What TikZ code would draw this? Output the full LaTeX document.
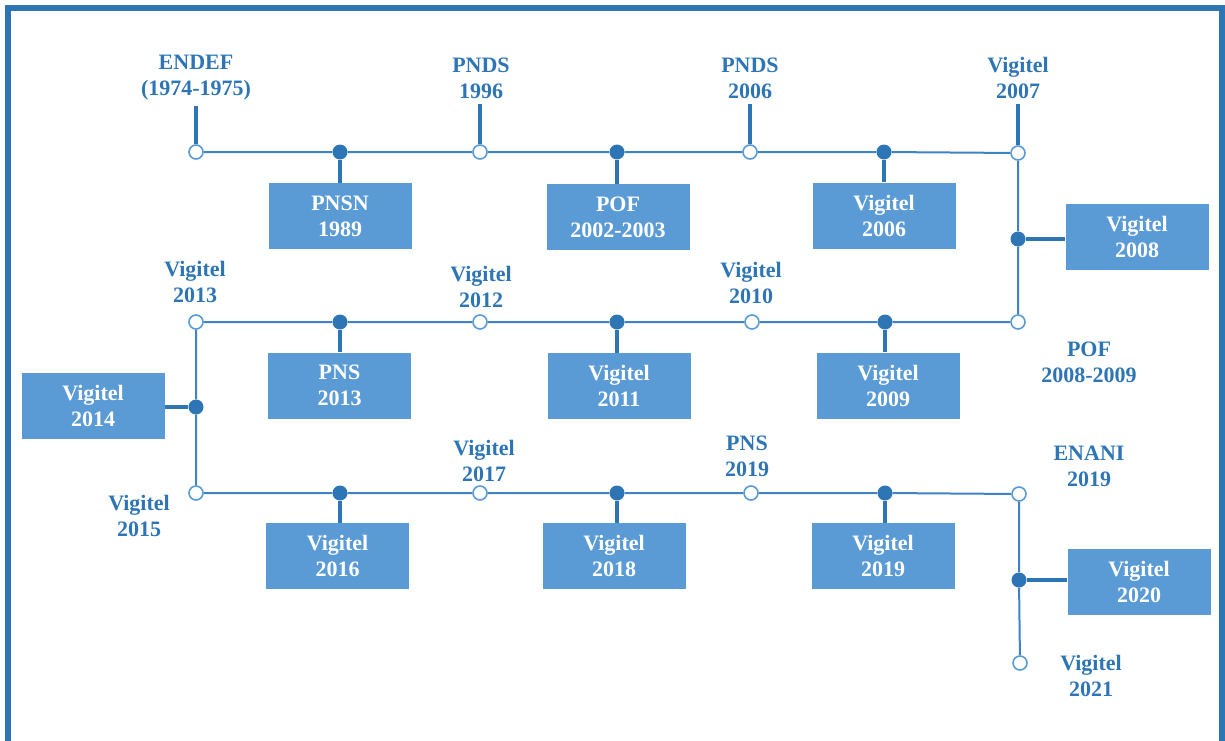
\documentclass[tikz,border=0pt]{standalone}
\usepackage{fontspec}
\setmainfont{Liberation Serif}[BoldFont={Liberation Serif Bold}]
\definecolor{framec}{HTML}{2E75B6}
\definecolor{boxfill}{HTML}{5B9BD5}
\definecolor{txtc}{HTML}{2E75B6}
\definecolor{linec}{HTML}{3F83C4}
\tikzset{
  opendot/.style={circle,draw=boxfill,fill=white,line width=1.6pt,minimum size=14pt,inner sep=0pt},
  fulldot/.style={circle,fill=framec,minimum size=15pt,inner sep=0pt},
  evbox/.style={fill=boxfill,text=white,minimum width=143pt,minimum height=66pt,align=center,inner sep=0pt,font=\bfseries\fontsize{22}{26}\selectfont},
  lab/.style={text=txtc,align=center,inner sep=0pt,font=\bfseries\fontsize{22}{26}\selectfont},
  tl/.style={draw=linec,line width=2pt},
  stemline/.style={draw=framec,line width=4.5pt},
}
\begin{document}
\begin{tikzpicture}[x=1pt,y=-1pt]
\useasboundingbox (0,0) rectangle (1225,740);
\draw[framec,line width=6pt] (8,760) -- (8,8) -- (1222,8) -- (1222,760);

% row 1
\node[opendot] (a1) at (196,152) {};
\node[fulldot] (a2) at (340,152) {};
\node[opendot] (a3) at (480,152) {};
\node[fulldot] (a4) at (617,152) {};
\node[opendot] (a5) at (750,152) {};
\node[fulldot] (a6) at (884,152) {};
\node[opendot] (a7) at (1018,153) {};
% right vertical 1
\node[fulldot] (r1) at (1018,239) {};
% row 2
\node[opendot] (b7) at (1018,322) {};
\node[fulldot] (b6) at (885,322) {};
\node[opendot] (b5) at (752,322) {};
\node[fulldot] (b4) at (617,322) {};
\node[opendot] (b3) at (480,322) {};
\node[fulldot] (b2) at (340,322) {};
\node[opendot] (b1) at (196,322) {};
% left vertical
\node[fulldot] (l1) at (196,407) {};
% row 3
\node[opendot] (d1) at (196,493) {};
\node[fulldot] (d2) at (340,493) {};
\node[opendot] (d3) at (480,493) {};
\node[fulldot] (d4) at (617,493) {};
\node[opendot] (d5) at (751,493) {};
\node[fulldot] (d6) at (885,493) {};
\node[opendot] (d7) at (1019,494) {};
% right vertical 2
\node[fulldot] (r2) at (1019,580) {};
\node[opendot] (e1) at (1020,663) {};

% lines
\draw[tl] (a1) -- (a2) -- (a3) -- (a4) -- (a5) -- (a6) -- (a7) -- (r1) -- (b7)
  -- (b6) -- (b5) -- (b4) -- (b3) -- (b2) -- (b1) -- (l1) -- (d1)
  -- (d2) -- (d3) -- (d4) -- (d5) -- (d6) -- (d7) -- (r2) -- (e1);

% labels
\node[lab] (ta1) at (196,78) {ENDEF\\(1974-1975)};
\node[lab] (ta3) at (481,78) {PNDS\\1996};
\node[lab] (ta5) at (750,78) {PNDS\\2006};
\node[lab] (ta7) at (1018,78) {Vigitel\\2007};
\node[lab] (tb1) at (195,282) {Vigitel\\2013};
\node[lab] (tb3) at (481,287) {Vigitel\\2012};
\node[lab] (tb5) at (751,283) {Vigitel\\2010};
\node[lab] (tb7) at (1089,362) {POF\\2008-2009};
\node[lab] (td1) at (139,516) {Vigitel\\2015};
\node[lab] (td3) at (484,461) {Vigitel\\2017};
\node[lab] (td5) at (747,456) {PNS\\2019};
\node[lab] (td7) at (1089,466) {ENANI\\2019};
\node[lab] (te1) at (1091,676) {Vigitel\\2021};

% stems to top labels
\foreach \c/\t in {a1/ta1,a3/ta3,a5/ta5,a7/ta7}
  \draw[stemline,shorten >=5pt] (\c) -- (\c |- \t.south);

% boxes
\node[evbox] (x2) at (340,216) {PNSN\\1989};
\node[evbox] (x4) at (618,217) {POF\\2002-2003};
\node[evbox] (x6) at (884,215.5) {Vigitel\\2006};
\node[evbox] (xr1) at (1137,236.5) {Vigitel\\2008};
\node[evbox] (y2) at (339.5,385.5) {PNS\\2013};
\node[evbox] (y4) at (619,386) {Vigitel\\2011};
\node[evbox] (y6) at (888,385.5) {Vigitel\\2009};
\node[evbox] (yl1) at (93,405.5) {Vigitel\\2014};
\node[evbox] (z2) at (337.5,556) {Vigitel\\2016};
\node[evbox] (z4) at (614,556) {Vigitel\\2018};
\node[evbox] (z6) at (883,556) {Vigitel\\2019};
\node[evbox] (zr2) at (1139,581.5) {Vigitel\\2020};

% box connectors
\foreach \c/\b in {a2/x2,a4/x4,a6/x6,b2/y2,b4/y4,b6/y6,d2/z2,d4/z4,d6/z6}
  \draw[stemline] (\c) -- (\c |- \b.north);
\draw[stemline] (r1) -- (r1 -| xr1.west);
\draw[stemline] (l1) -- (l1 -| yl1.east);
\draw[stemline] (r2) -- (r2 -| zr2.west);
\end{tikzpicture}
\end{document}
